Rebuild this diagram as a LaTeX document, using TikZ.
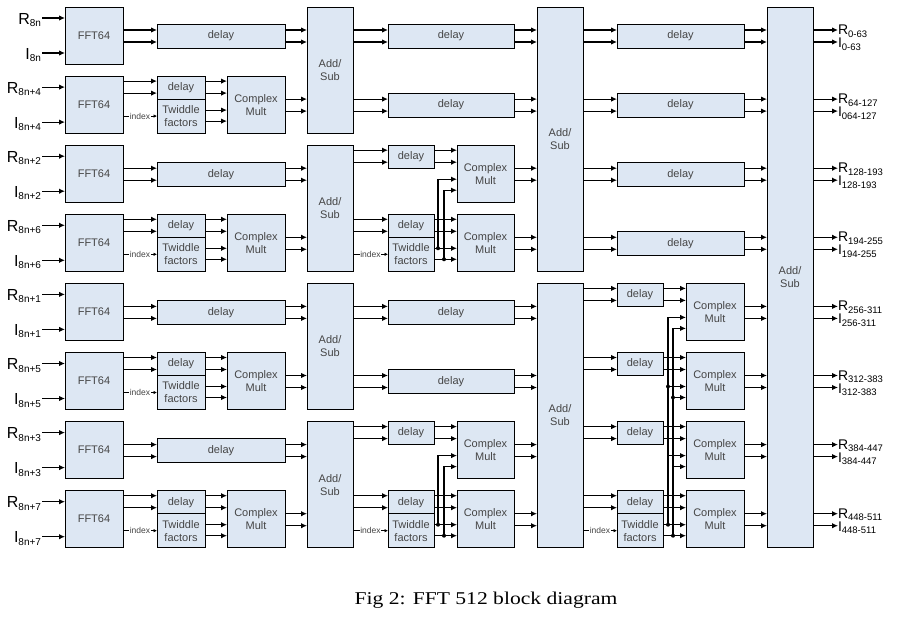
\documentclass[tikz,border=0pt]{standalone}
\usepackage{fontspec}
\setmainfont{Liberation Sans}
\newfontfamily\capfont{Liberation Serif}
\usetikzlibrary{arrows.meta}
\definecolor{boxblue}{HTML}{DDE7F3}
\definecolor{txtgray}{HTML}{454545}
\newcommand\sglab[2]{\fontsize{16}{16}\selectfont #1\raisebox{-2.5pt}{\fontsize{10}{10}\selectfont #2}}
\newcommand\sgout[2]{\fontsize{14}{14}\selectfont #1\raisebox{-2.5pt}{\fontsize{9.5}{10}\selectfont #2}}
\tikzset{
  blk/.style={draw, line width=1pt, fill=boxblue, text=txtgray, align=center, inner sep=0pt, outer sep=0pt, font=\fontsize{11}{13}\selectfont, anchor=north west},
  arr/.style={line width=1.1pt, -{Latex[length=6pt,width=5.5pt]}},
  idx/.style={line width=0.6pt, -{Latex[length=3.5pt,width=3.5pt]}},
  idxlab/.style={fill=white, inner sep=0.8pt, text=txtgray, font=\fontsize{8.5}{9}\selectfont},
  lbl/.style={inner sep=0pt, outer sep=0pt, text=black},
  jdot/.style={circle, fill=black, inner sep=0pt, minimum size=4pt},
}
\newcommand\mkbox[6]{\node[blk, minimum width={((#3)-(#2))*1pt}, minimum height={((#5)-(#4))*1pt}] (#1) at (#2,#4) {#6};}
\newcommand\arw[3]{\draw[arr] (#1.east |- 0,#3) -- (#2.west |- 0,#3);}
\begin{document}
\begin{tikzpicture}[x=1pt,y=-1pt]
\useasboundingbox (0,0) rectangle (902,621);
% ---------- stage 0 ----------
\foreach \i/\rs in {0/8n,1/8n+4,2/8n+2,3/8n+6,4/8n+1,5/8n+5,6/8n+3,7/8n+7}{
  \pgfmathsetmacro{\T}{7+69.1*\i}
  \mkbox{f\i}{65}{123}{\T}{\T+57}{FFT64}
  \node[lbl, anchor=base east] (inR\i) at (41,\T+17) {\sglab{R}{\rs}};
  \node[lbl, anchor=base east] (inI\i) at (41,\T+52) {\sglab{I}{\rs}};
  \draw[arr, shorten <=1pt] (inR\i.east |- 0,\T+11) -- (f\i.west |- 0,\T+11);
  \draw[arr, shorten <=1pt] (inI\i.east |- 0,\T+46) -- (f\i.west |- 0,\T+46);
  \ifodd\i\relax
    \mkbox{s0\i}{157}{205}{\T}{\T+23}{delay}
    \mkbox{t0\i}{157}{205}{\T+23}{\T+57}{Twiddle\\factors}
    \mkbox{p\i}{227}{285}{\T}{\T+57}{Complex\\Mult}
    \arw{f\i}{s0\i}{\T+5} \arw{f\i}{s0\i}{\T+17}
    \arw{s0\i}{p\i}{\T+5} \arw{s0\i}{p\i}{\T+17}
    \arw{t0\i}{p\i}{\T+34} \arw{t0\i}{p\i}{\T+45}
    \draw[idx] (f\i.east |- 0,\T+40) -- node[idxlab] (ix0\i) {index} (t0\i.west |- 0,\T+40);
  \else
    \mkbox{p\i}{157}{285}{\T+17}{\T+41}{delay}
    \arw{f\i}{p\i}{\T+23} \arw{f\i}{p\i}{\T+35}
  \fi
}
% ---------- stage 1 ----------
\foreach \k in {0,...,3}{
  \pgfmathsetmacro{\Ta}{7+69.1*(2*\k)}
  \pgfmathsetmacro{\Tb}{7+69.1*(2*\k+1)+57}
  \mkbox{a\k}{307}{353}{\Ta}{\Tb}{Add/\\Sub}
}
\foreach \i/\k in {0/0,1/0,2/1,3/1,4/2,5/2,6/3,7/3}{
  \pgfmathsetmacro{\T}{7+69.1*\i}
  \arw{p\i}{a\k}{\T+23} \arw{p\i}{a\k}{\T+35}
}
\foreach \i/\k in {0/0,1/0,4/2,5/2}{
  \pgfmathsetmacro{\T}{7+69.1*\i}
  \mkbox{q\i}{388}{514}{\T+17}{\T+41}{delay}
  \arw{a\k}{q\i}{\T+23} \arw{a\k}{q\i}{\T+35}
}
\foreach \i/\k in {2/1,3/1,6/3,7/3}{
  \pgfmathsetmacro{\T}{7+69.1*\i}
  \mkbox{s1\i}{388}{434}{\T}{\T+23}{delay}
  \mkbox{q\i}{457}{514}{\T}{\T+57}{Complex\\Mult}
  \arw{a\k}{s1\i}{\T+5} \arw{a\k}{s1\i}{\T+17}
  \arw{s1\i}{q\i}{\T+5} \arw{s1\i}{q\i}{\T+17}
}
\foreach \i/\k/\u in {3/1/2,7/3/6}{
  \pgfmathsetmacro{\T}{7+69.1*\i}
  \pgfmathsetmacro{\Tu}{7+69.1*\u}
  \mkbox{t1\i}{388}{434}{\T+23}{\T+57}{Twiddle\\factors}
  \draw[idx] (a\k.east |- 0,\T+40) -- node[idxlab] (ix1\i) {index} (t1\i.west |- 0,\T+40);
  \arw{t1\i}{q\i}{\T+34} \arw{t1\i}{q\i}{\T+45}
  \node[jdot] (ja\i) at (438,\T+34) {};
  \node[jdot] (jb\i) at (444,\T+45) {};
  \draw[arr] (ja\i.center) |- (q\u.west |- 0,\Tu+34);
  \draw[arr] (jb\i.center) |- (q\u.west |- 0,\Tu+45);
}
% ---------- stage 2 ----------
\mkbox{b0}{537}{583}{7}{7+69.1*3+57}{Add/\\Sub}
\mkbox{b1}{537}{583}{7+69.1*4}{7+69.1*7+57}{Add/\\Sub}
\foreach \i/\m in {0/0,1/0,2/0,3/0,4/1,5/1,6/1,7/1}{
  \pgfmathsetmacro{\T}{7+69.1*\i}
  \arw{q\i}{b\m}{\T+23} \arw{q\i}{b\m}{\T+35}
}
\foreach \i in {0,...,3}{
  \pgfmathsetmacro{\T}{7+69.1*\i}
  \mkbox{r\i}{617}{744}{\T+17}{\T+41}{delay}
  \arw{b0}{r\i}{\T+23} \arw{b0}{r\i}{\T+35}
}
\foreach \i in {4,...,7}{
  \pgfmathsetmacro{\T}{7+69.1*\i}
  \mkbox{s2\i}{617}{663}{\T}{\T+23}{delay}
  \mkbox{r\i}{686}{744}{\T}{\T+57}{Complex\\Mult}
  \arw{b1}{s2\i}{\T+5} \arw{b1}{s2\i}{\T+17}
  \arw{s2\i}{r\i}{\T+5} \arw{s2\i}{r\i}{\T+17}
}
\pgfmathsetmacro{\Tf}{7+69.1*4}
\pgfmathsetmacro{\Tg}{7+69.1*5}
\pgfmathsetmacro{\Th}{7+69.1*6}
\pgfmathsetmacro{\Ts}{7+69.1*7}
\mkbox{t27}{617}{663}{\Ts+23}{\Ts+57}{Twiddle\\factors}
\draw[idx] (b1.east |- 0,\Ts+40) -- node[idxlab] (ix27) {index} (t27.west |- 0,\Ts+40);
\arw{t27}{r7}{\Ts+34} \arw{t27}{r7}{\Ts+45}
\node[jdot] (jc7) at (668,\Ts+34) {};
\node[jdot] (jd7) at (673,\Ts+45) {};
\node[jdot] (jc5) at (668,\Tg+34) {};
\node[jdot] (jd5) at (673,\Tg+45) {};
\coordinate (jc6) at (668,\Th+34);
\coordinate (jd6) at (673,\Th+45);
\draw[arr] (jc7.center) |- (r4.west |- 0,\Tf+34);
\draw[arr] (jd7.center) |- (r4.west |- 0,\Tf+45);
\draw[arr] (jc5.center) -- (r5.west |- jc5);
\draw[arr] (jd5.center) -- (r5.west |- jd5);
\draw[arr] (jc6) -- (r6.west |- jc6);
\draw[arr] (jd6) -- (r6.west |- jd6);
% ---------- stage 3 ----------
\mkbox{c}{767}{813}{7}{7+69.1*7+57}{Add/\\Sub}
\foreach \i/\sr/\si in {0/0-63/0-63,1/64-127/064-127,2/128-193/128-193,3/194-255/194-255,4/256-311/256-311,5/312-383/312-383,6/384-447/384-447,7/448-511/448-511}{
  \pgfmathsetmacro{\T}{7+69.1*\i}
  \arw{r\i}{c}{\T+23} \arw{r\i}{c}{\T+35}
  \node[lbl, anchor=base west] (oR\i) at (838,\T+27.5) {\sgout{R}{\sr}};
  \node[lbl, anchor=base west] (oI\i) at (838,\T+40.5) {\sgout{I}{\si}};
  \draw[arr] (c.east |- 0,\T+23) -- (oR\i.west |- 0,\T+23);
  \draw[arr] (c.east |- 0,\T+35) -- (oI\i.west |- 0,\T+35);
}
% ---------- caption ----------
\node[anchor=base, font=\capfont\fontsize{18}{20}\selectfont] (cap) at (486,604) {\scalebox{1.2}[1]{Fig 2: FFT 512 block diagram}};
\end{tikzpicture}
\end{document}
